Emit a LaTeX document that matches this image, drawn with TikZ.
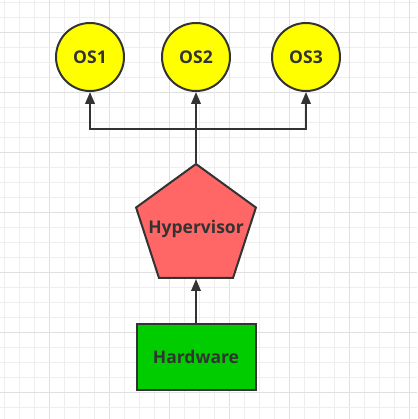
\documentclass[tikz,border=0pt]{standalone}
\usepackage{fontspec}
\setmainfont{Open Sans}
\usetikzlibrary{shapes.geometric,arrows.meta}
\definecolor{gridlight}{HTML}{EEEEEE}
\definecolor{gridheavy}{HTML}{E0E0E0}
\definecolor{ink}{HTML}{333333}
\definecolor{osfill}{HTML}{FFFF00}
\definecolor{hypfill}{HTML}{FF6666}
\definecolor{hwfill}{HTML}{00CC00}
\tikzset{
  lbl/.style={text=ink,font=\fontsize{17.5}{20}\selectfont\bfseries},
  osnode/.style={lbl,circle,draw=ink,line width=2pt,fill=osfill,minimum size=68pt,inner sep=0pt},
  hypnode/.style={regular polygon,regular polygon sides=5,draw=ink,line width=2pt,fill=hypfill,minimum size=126pt,inner sep=0pt},
  hwnode/.style={lbl,rectangle,draw=ink,line width=2pt,fill=hwfill,minimum width=119pt,minimum height=66pt,inner sep=0pt},
  conn/.style={draw=ink,line width=2pt,-{Triangle[length=12pt,width=9.5pt]}},
  plain/.style={draw=ink,line width=2pt}
}
\begin{document}
\begin{tikzpicture}[x=1pt,y=-1pt]
\useasboundingbox (0,0) rectangle (417,419);
\fill[white] (0,0) rectangle (417,419);
% grid
\foreach \k in {0,...,27}{
  \pgfmathsetmacro{\xx}{4.7+15*\k}
  \pgfmathsetmacro{\yy}{2.3+15*\k}
  \pgfmathtruncatemacro{\mx}{mod(\k,4)}
  \ifnum\mx=3 \draw[gridheavy,line width=1pt] (\xx,0) -- (\xx,419);
  \else \draw[gridlight,line width=1pt] (\xx,0) -- (\xx,419); \fi
  \ifnum\mx=2 \draw[gridheavy,line width=1pt] (0,\yy) -- (417,\yy);
  \else \draw[gridlight,line width=1pt] (0,\yy) -- (417,\yy); \fi
}
% nodes
\node[osnode] (os1) at (90,57) {OS1};
\node[osnode] (os2) at (196,57) {OS2};
\node[osnode] (os3) at (306,57) {OS3};
\node[hypnode] (hyp) at (196,227) {};
\node[lbl] (hyptext) at ([yshift=-1.5pt]hyp.center) {Hypervisor};
\node[hwnode] (hw) at (196,357) {Hardware};
\coordinate (j) at (196,129);
% connectors
\draw[conn] (hw.north) -- (hyp.south);
\draw[plain] (hyp.north) -- (j);
\draw[conn] (j) -- (os2.south);
\draw[conn] (j) -| (os1.south);
\draw[conn] (j) -| (os3.south);
\end{tikzpicture}
\end{document}
